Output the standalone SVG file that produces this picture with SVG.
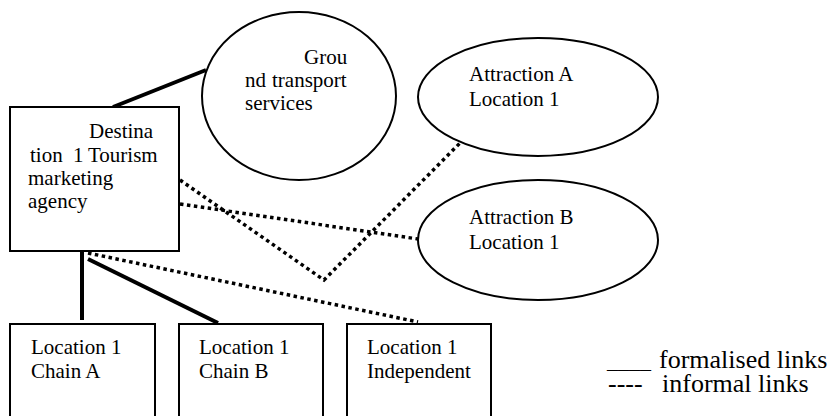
<svg xmlns="http://www.w3.org/2000/svg" width="833" height="416" viewBox="0 0 833 416">
<style>
text{font-family:"Liberation Serif","Times New Roman",serif;font-size:21px;fill:#000}
.legend{font-size:26px}
.under{font-size:22px}
.box{fill:#fff;stroke:#000;stroke-width:2}
.ell{fill:#fff;stroke:#000;stroke-width:2}
.solid{stroke:#000;stroke-width:4;fill:none}
.dot{stroke:#000;stroke-width:3.5;fill:none;stroke-dasharray:3.5 3.5}
</style>
<rect width="833" height="416" fill="#fff"/>
<g id="connectors">
<line class="solid" x1="113" y1="107" x2="206" y2="70"/>
<line class="solid" x1="82" y1="251" x2="82" y2="320"/>
<line class="solid" x1="88" y1="259" x2="218" y2="323"/>
<polyline class="dot" points="180,180 324,280 466,137"/>
<line class="dot" x1="180" y1="204" x2="418" y2="239"/>
<line class="dot" x1="88" y1="253" x2="418" y2="322"/>
</g>
<g id="ground">
<ellipse class="ell" cx="299" cy="96" rx="97" ry="84"/>
<text x="304" y="64">Grou</text>
<text y="87"><tspan x="245">nd</tspan><tspan x="272">transport</tspan></text>
<text x="245" y="110">services</text>
</g>
<g id="destination">
<rect class="box" x="10" y="107" width="169" height="144"/>
<text x="89" y="138">Destina</text>
<text y="162"><tspan x="30">tion</tspan><tspan x="73">1</tspan><tspan x="88">Tourism</tspan></text>
<text x="28" y="185">marketing</text>
<text x="28" y="208">agency</text>
</g>
<g id="attractionA">
<ellipse class="ell" cx="538" cy="97" rx="120" ry="59"/>
<text x="469" y="81">Attraction A</text>
<text x="469" y="106">Location 1</text>
</g>
<g id="attractionB">
<ellipse class="ell" cx="538" cy="240" rx="120" ry="60"/>
<text x="469" y="224">Attraction B</text>
<text x="469" y="249">Location 1</text>
</g>
<g id="chainA">
<rect class="box" x="10" y="324" width="145" height="100"/>
<text x="31" y="354">Location 1</text>
<text x="31" y="378">Chain A</text>
</g>
<g id="chainB">
<rect class="box" x="179" y="324" width="144" height="100"/>
<text x="199" y="354">Location 1</text>
<text x="199" y="378">Chain B</text>
</g>
<g id="independent">
<rect class="box" x="347" y="324" width="144" height="100"/>
<text x="367" y="354">Location 1</text>
<text x="367" y="378">Independent</text>
</g>
<g id="legend">
<text class="under" x="607" y="368">____</text>
<text class="legend" x="659" y="368">formalised links</text>
<text class="legend" x="608" y="392">----</text>
<text class="legend" x="662" y="392">informal links</text>
</g>
</svg>
